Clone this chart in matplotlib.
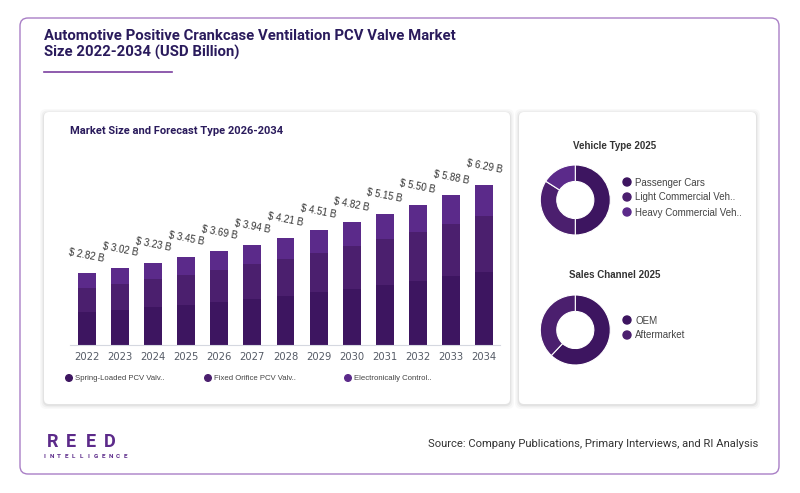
import matplotlib
matplotlib.use("Agg")
import matplotlib.pyplot as plt
from matplotlib.patches import FancyBboxPatch, Circle
import numpy as np

# data
years = ['2022', '2023', '2024', '2025', '2026', '2027', '2028',
         '2029', '2030', '2031', '2032', '2033', '2034']
spring_loaded = [1.29, 1.38, 1.49, 1.59, 1.70, 1.82, 1.95, 2.08, 2.22, 2.38, 2.54, 2.71, 2.89]
fixed_orifice = [0.97, 1.04, 1.11, 1.18, 1.26, 1.36, 1.45, 1.55, 1.67, 1.78, 1.90, 2.05, 2.18]
electronic = [0.56, 0.60, 0.63, 0.68, 0.73, 0.76, 0.81, 0.88, 0.93, 0.99, 1.06, 1.12, 1.22]
totals = [2.82, 3.02, 3.23, 3.45, 3.69, 3.94, 4.21, 4.51, 4.82, 5.15, 5.50, 5.88, 6.29]
seg_names = ['Spring-Loaded PCV Valv..', 'Fixed Orifice PCV Valv..', 'Electronically Control..']

vehicle_types = ['Passenger Cars', 'Light Commercial Veh..', 'Heavy Commercial Veh..']
vehicle_share = [50, 34, 16]
channels = ['OEM', 'Aftermarket']
channel_share = [62, 38]

c_dark = '#3d1560'
c_mid = '#4b1f6e'
c_light = '#5b2a8a'
navy = '#2a1b5c'
logo = '#5c2a8a'

W, H = 800, 493
fig = plt.figure(figsize=(W / 100, H / 100), dpi=100)
fig.patch.set_facecolor('white')


def rect(x0, y0, x1, y1):
    # pixel box (top-left origin) -> figure fraction
    return [x0 / W, 1 - y1 / H, (x1 - x0) / W, (y1 - y0) / H]


bg = fig.add_axes([0, 0, 1, 1])
bg.set_xlim(0, W)
bg.set_ylim(H, 0)
bg.axis('off')

# outer frame
bg.add_patch(FancyBboxPatch((20, 18), 759, 456, boxstyle='round,pad=0,rounding_size=8',
                            fc='white', ec='#a97fc6', lw=1))
# panels with soft shadow
for x0, y0, x1, y1 in [(44, 112, 510, 404), (519, 112, 756, 404)]:
    for k, a in [(4, 0.025), (2.5, 0.035), (1.2, 0.05)]:
        bg.add_patch(FancyBboxPatch((x0 - k, y0 - k + 1), x1 - x0 + 2 * k, y1 - y0 + 2 * k,
                                    boxstyle='round,pad=0,rounding_size=6',
                                    fc='#000000', ec='none', alpha=a))
    bg.add_patch(FancyBboxPatch((x0, y0), x1 - x0, y1 - y0, boxstyle='round,pad=0,rounding_size=5',
                                fc='white', ec='none'))

bg.text(44, 36.5, 'Automotive Positive Crankcase Ventilation PCV Valve Market',
        family='Roboto', fontsize=10.7, fontweight='bold', color=navy, va='center')
bg.text(44, 52, 'Size 2022-2034 (USD Billion)',
        family='Roboto', fontsize=10.7, fontweight='bold', color=navy, va='center')
bg.plot([44, 172], [72, 72], color='#7b3fa0', lw=1.2)
bg.text(70, 131, 'Market Size and Forecast Type 2026-2034', family='Roboto', fontsize=8,
        fontweight='bold', color=navy, va='center')

# footer logo
for lx, ch in zip([52.5, 71, 91, 110], 'REED'):
    bg.text(lx, 442, ch, fontsize=13, fontweight='bold', color=logo, ha='center',
            va='center', family='Roboto')
for i, ch in enumerate('INTELLIGENCE'):
    bg.text(44 + i * 7.4, 456, ch, fontsize=4.6, fontweight='bold', color=logo,
            ha='center', va='center', family='Roboto')
bg.text(758, 444, 'Source: Company Publications, Primary Interviews, and RI Analysis',
        family='Roboto', fontsize=8.1, color='#333333', ha='right', va='center')

# stacked bars
ax = fig.add_axes(rect(70, 150, 500, 345.3))
x = np.arange(len(years))
ax.bar(x, spring_loaded, width=0.54, color=c_dark)
ax.bar(x, fixed_orifice, width=0.54, bottom=spring_loaded, color=c_mid)
bot3 = np.array(spring_loaded) + np.array(fixed_orifice)
ax.bar(x, electronic, width=0.54, bottom=bot3, color=c_light)
for xi, t in zip(x, totals):
    ax.text(xi, t + 0.72, f'$ {t:.2f} B', ha='center', va='center', rotation=-11,
            fontsize=7, color='#333333', family='Liberation Sans')
ax.set_xlim(-0.51, 12.48)
ax.set_ylim(0, 7.66)
ax.set_xticks(x, years)
ax.tick_params(axis='x', length=0, pad=5, labelsize=7.2, labelcolor='#555b66')
ax.set_yticks([])
for s in ['top', 'right', 'left']:
    ax.spines[s].set_visible(False)
ax.spines['bottom'].set_color('#d5d8e0')

# bar legend
for lx, name, col in zip([69, 208, 348], seg_names, [c_dark, c_mid, c_light]):
    bg.add_patch(Circle((lx, 378), 3.3, color=col))
    bg.text(lx + 6, 378.5, name, fontsize=5.6, color='#444444', va='center',
            family='Liberation Sans')


def donut(cx, cy, vals, cols, title, ty, labels, ly):
    r = 35
    d = fig.add_axes(rect(cx - r, cy - r, cx + r, cy + r))
    d.pie(vals, colors=cols, startangle=90, counterclock=False, radius=1,
          wedgeprops=dict(width=0.47, edgecolor='white', linewidth=0.8))
    d.set_aspect('equal')
    d.set_xlim(-1, 1)
    d.set_ylim(-1, 1)
    bg.text(615, ty, title, fontsize=7, fontweight='bold', color='#333333', ha='center',
            va='center', family='Liberation Sans')
    for i, (lab, col) in enumerate(zip(labels, cols)):
        yy = ly + i * 15
        bg.add_patch(Circle((627, yy), 4, color=col))
        bg.text(635, yy + 0.5, lab, fontsize=7, color='#444444', va='center',
                family='Liberation Sans')


donut(575.3, 200, vehicle_share, [c_dark, c_mid, c_light], 'Vehicle Type 2025', 146,
      vehicle_types, 182)
donut(575.3, 330, channel_share, [c_dark, c_mid], 'Sales Channel 2025', 275.5,
      channels, 320)

fig.savefig('out.png', dpi=100, facecolor='white')
